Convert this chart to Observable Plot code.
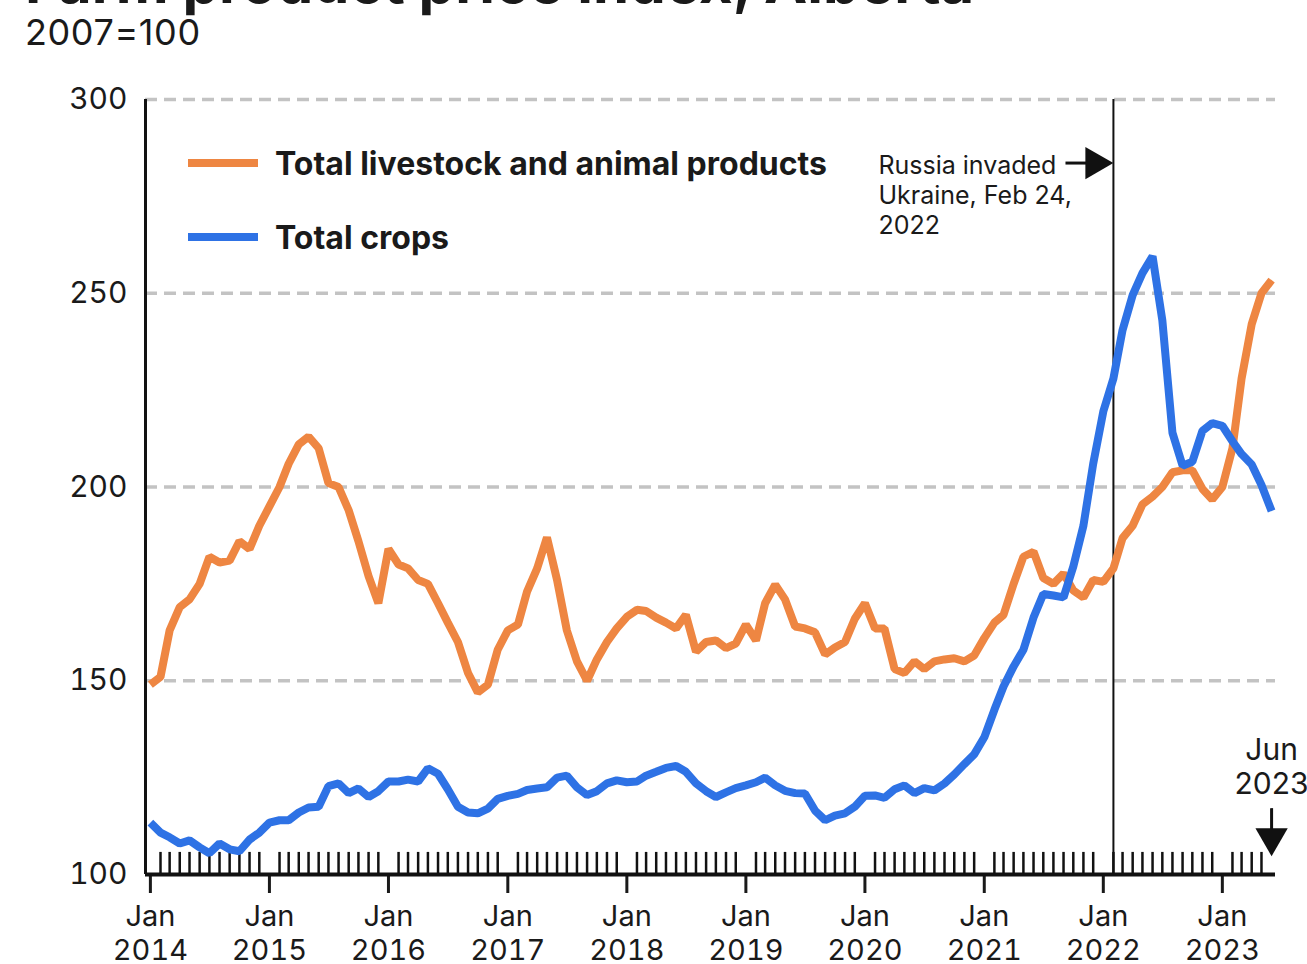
<!DOCTYPE html>
<html><head><meta charset="utf-8">
<script src="https://cdn.jsdelivr.net/npm/d3@7"></script>
<script src="https://cdn.jsdelivr.net/npm/@observablehq/plot@0.6"></script>
<style>
body{margin:0;background:#fff;}
#wrap{position:relative;width:1307px;height:964px;overflow:hidden;font-family:Inter, "Noto Sans", sans-serif;color:#1a1a1a;background:#fff;}
#head{position:absolute;left:0;top:0;}
#chart{position:absolute;left:0;top:60px;}
.leg{position:absolute;left:188px;height:40px;display:flex;align-items:center;font-weight:700;font-size:32px;white-space:nowrap;}
.leg .sw{display:inline-block;width:70px;height:8px;margin-right:17px;}
</style></head>
<body><div id="wrap">
<svg id="head" width="1307" height="60">
  <text x="25" y="3" font-family="Inter, sans-serif" font-size="58" font-weight="700" fill="#1a1a1a">Farm product price index, Alberta</text>
  <text x="25" y="45" font-family="Inter, sans-serif" font-size="36" letter-spacing="0.6" fill="#1a1a1a">2007=100</text>
</svg>
<div id="chart"></div>
<div id="legend"></div>
</div>
<script>
const startYear = 2014;
const years = [2014, 2015, 2016, 2017, 2018, 2019, 2020, 2021, 2022, 2023];
const yTicks = [100, 150, 200, 250, 300];
const gridValues = [150, 200, 250, 300];
const seriesNames = ["Total livestock and animal products", "Total crops"];
const seriesColors = ["#EE8642", "#2E72E5"];
const eventLabel = "Russia invaded\nUkraine, Feb 24,\n2022";
const endLabel = "Jun\n2023";

// Monthly index values, Jan 2014 .. Jun 2023
const livestock = [
  149, 151, 163, 169, 171, 175, 182, 180.5, 181, 186, 184, 190,
  195, 200, 206, 211, 213, 210, 201, 200, 194, 186, 177, 170,
  184, 180, 179, 176, 175, 170, 165, 160, 152, 147, 149, 158,
  163, 164.5, 173, 179, 187, 176, 163, 155, 150, 155.5, 160, 163.5,
  166.5, 168.3, 168, 166.3, 165, 163.5, 167, 157.5, 160, 160.4, 158.4, 159.6,
  164.5, 160.4, 170, 174.8, 171, 164, 163.5, 162.5, 156.8, 158.6, 160, 166,
  170, 163.5, 163.5, 153, 152, 155, 153, 155, 155.5, 155.8, 155, 156.5,
  161, 165, 167, 175, 182, 183.3, 176.5, 175, 177.7, 173.3, 171.5, 176,
  175.5, 179, 186.8, 190, 195.5, 197.5, 200, 203.8, 204.3, 204.3, 199.5, 196.8,
  200, 210, 228, 242, 250, 253.4
];
const crops = [
  113.4, 110.8, 109.6, 108, 108.8, 107, 105.5, 108, 106.5, 106, 109, 110.8,
  113.4, 114, 114, 116, 117.3, 117.5, 122.8, 123.5, 121, 122.2, 120, 121.5,
  124, 124, 124.5, 124, 127.4, 126, 122, 117.5, 116, 115.8, 117, 119.5,
  120.3, 120.8, 121.8, 122.2, 122.5, 125, 125.5, 122.5, 120.5, 121.5, 123.5, 124.3,
  123.8, 124, 125.5, 126.5, 127.5, 128, 126.5, 123.5, 121.5, 120, 121.2, 122.3,
  123, 123.8, 125, 123, 121.6, 121, 120.9, 116.5, 114, 115.2, 115.8, 117.5,
  120.3, 120.4, 119.8, 122, 123, 121, 122.3, 121.7, 123.5, 125.8, 128.5, 131,
  135.4, 142.5, 148.5, 153.7, 158, 166.3, 172.4, 172, 171.5, 179.5, 190, 206,
  219.5, 228, 240.5, 249.5, 255.2, 259.5, 243, 214, 205.5, 206.5, 214.5, 216.5,
  215.8, 211.8, 208.5, 205.8, 200.5, 193.8
];

const month = i => new Date(Date.UTC(startYear, i, 1));
const rows = [];
livestock.forEach((v, i) => rows.push({date: month(i), value: v, series: seriesNames[0]}));
crops.forEach((v, i) => rows.push({date: month(i), value: v, series: seriesNames[1]}));

const lastDate = month(livestock.length - 1);
// the event is marked at the Feb 2022 monthly observation
const eventDate = new Date(Date.UTC(2022, 1, 1));
const majorTicks = years.map(y => new Date(Date.UTC(y, 0, 1)));
const minorTicks = d3.utcMonths(month(1), lastDate).filter(d => d.getUTCMonth() !== 0);
const xStart = new Date(Date.UTC(2013, 11, 17));
const xEnd = new Date(Date.UTC(2023, 5, 13));

const chart = Plot.plot({
  width: 1307,
  height: 904,
  marginLeft: 145,
  marginRight: 32,
  marginTop: 39,
  marginBottom: 90,
  x: {type: "utc", domain: [xStart, xEnd]},
  y: {domain: [100, 300]},
  color: {domain: seriesNames, range: seriesColors},
  style: {fontFamily: "Inter, sans-serif", fontSize: "30px", color: "#1a1a1a", background: "transparent", overflow: "visible"},
  marks: [
    Plot.gridY(gridValues, {stroke: "#c3c3c3", strokeOpacity: 1, strokeWidth: 3.5, strokeDasharray: "12,7"}),
    Plot.axisY(yTicks, {tickSize: 0, tickPadding: 18, fontSize: 30, label: null}),
    Plot.axisX(majorTicks, {tickSize: 19, tickPadding: 8, strokeWidth: 3, fontSize: 29, lineHeight: 1.18,
      tickFormat: d => `Jan\n${d.getUTCFullYear()}`, label: null}),
    Plot.ruleX(minorTicks, {y1: 100, y2: 105.7, strokeWidth: 2.5, stroke: "#111"}),
    Plot.ruleX([xStart], {y1: 100, y2: 300, strokeWidth: 3, stroke: "#111"}),
    Plot.ruleY([100], {strokeWidth: 4, stroke: "#111"}),
    Plot.ruleX([eventDate], {y1: 100, y2: 300, strokeWidth: 2, stroke: "#111"}),
    Plot.line(rows, {x: "date", y: "value", z: "series", stroke: "series", strokeWidth: 8,
      strokeLinejoin: "miter", strokeLinecap: "butt"}),
    // event annotation
    Plot.text([eventLabel], {x: eventDate, frameAnchor: "top", dy: 95, dx: -235, textAnchor: "start",
      lineAnchor: "middle", fontSize: 25, lineHeight: 1.2, fill: "#1a1a1a"}),
    Plot.link([0], {x1: d3.utcDay.offset(eventDate, -147), x2: d3.utcDay.offset(eventDate, -70), y1: 283.6, y2: 283.6,
      strokeWidth: 3, stroke: "#111"}),
    Plot.dot([0], {x: eventDate, y: 283.6, symbol: "triangle", r: 12, rotate: 90, fill: "#111", stroke: "none", dx: -18.7}),
    // end-of-data annotation
    Plot.text([endLabel], {x: lastDate, y: 128, textAnchor: "middle", lineAnchor: "middle", fontSize: 30, lineHeight: 1.15, fill: "#1a1a1a"}),
    Plot.ruleX([lastDate], {y1: 117, y2: 111, strokeWidth: 3, stroke: "#111"}),
    Plot.dot([0], {x: lastDate, y: 109.5, symbol: "triangle", r: 12, rotate: 180, fill: "#111", stroke: "none"})
  ]
});
document.getElementById("chart").appendChild(chart);

// legend
const legend = document.getElementById("legend");
const legendTops = [143, 217];
seriesNames.forEach((name, i) => {
  const row = document.createElement("div");
  row.className = "leg";
  row.style.top = legendTops[i] + "px";
  const sw = document.createElement("span");
  sw.className = "sw";
  sw.style.background = seriesColors[i];
  const label = document.createElement("span");
  label.textContent = name;
  row.appendChild(sw);
  row.appendChild(label);
  legend.appendChild(row);
});
</script>
</body></html>
